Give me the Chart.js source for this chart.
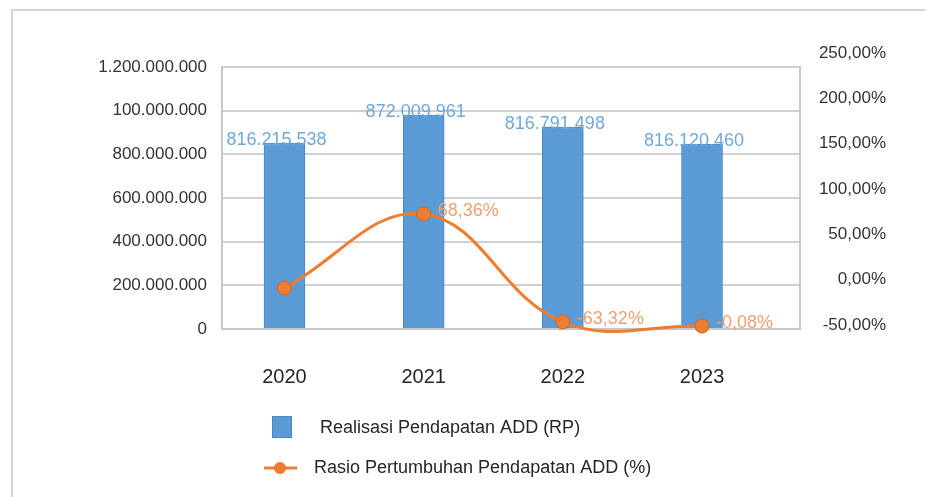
<!DOCTYPE html>
<html>
<head>
<meta charset="utf-8">
<script src="https://cdn.jsdelivr.net/npm/chart.js@4"></script>
<style>
  html, body { margin: 0; padding: 0; background: #ffffff; }
  #wrap { position: relative; width: 925px; height: 497px; }
</style>
</head>
<body>
<div id="wrap"><canvas id="c"></canvas></div>
<script>
// ---- data ----
const categories = ['2020', '2021', '2022', '2023'];
// bar heights as drawn against the left axis
const pendapatanValues = [852000000, 980000000, 925000000, 847000000];
// value labels printed above the bars
const pendapatanLabels = ['816.215.538', '872.009.961', '816.791.498', '816.120.460'];
// growth ratio points as drawn against the right axis (%)
const rasioValues = [-9.2, 72.5, -46.7, -51.1];
// value labels printed next to the points (none for 2020)
const rasioLabels = ['', '68,36%', '-63,32%', '-0,08%'];
// left axis tick labels as printed (0 .. 1.2 bn in 200 m steps)
const leftTickLabels = ['0', '200.000.000', '400.000.000', '600.000.000', '800.000.000', '100.000.000', '1.200.000.000'];
const rightTickValues = [-50, 0, 50, 100, 150, 200, 250];
const seriesNames = ['Realisasi Pendapatan ADD (RP)', 'Rasio Pertumbuhan Pendapatan ADD (%)'];

const BLUE = '#5b9bd5';
const BLUE_BORDER = '#4a86c0';
const ORANGE = '#ed7d31';
const ORANGE_DARK = '#d2691e';
const LABEL_BLUE = '#6fa8dc';
const FONT = "'Liberation Sans', Arial, sans-serif";

const framePlugin = {
  id: 'frame',
  beforeDraw(chart) {
    const ctx = chart.ctx;
    ctx.save();
    ctx.fillStyle = '#ffffff';
    ctx.fillRect(0, 0, chart.width, chart.height);
    ctx.strokeStyle = '#d4d4d4';
    ctx.lineWidth = 2;
    ctx.beginPath();
    ctx.moveTo(12, chart.height);
    ctx.lineTo(12, 10);
    ctx.lineTo(chart.width, 10);
    ctx.stroke();
    ctx.restore();
  }
};

const valueLabelPlugin = {
  id: 'valueLabels',
  afterDatasetsDraw(chart) {
    const ctx = chart.ctx;
    ctx.save();
    const barMeta = chart.getDatasetMeta(0);
    ctx.font = '18px ' + FONT;
    ctx.fillStyle = LABEL_BLUE;
    ctx.textAlign = 'center';
    ctx.textBaseline = 'alphabetic';
    barMeta.data.forEach((el, i) => {
      ctx.fillText(pendapatanLabels[i], el.x - 8, el.y + 2);
    });
    const lineMeta = chart.getDatasetMeta(1);
    ctx.fillStyle = '#f0a070';
    ctx.textAlign = 'left';
    ctx.textBaseline = 'middle';
    lineMeta.data.forEach((el, i) => {
      if (rasioLabels[i]) ctx.fillText(rasioLabels[i], el.x + 14, el.y - 3);
    });
    ctx.restore();
  }
};

const legendPlugin = {
  id: 'customLegend',
  afterDraw(chart) {
    const ctx = chart.ctx;
    const ds = chart.data.datasets;
    ctx.save();
    // bar entry
    ctx.fillStyle = ds[0].backgroundColor;
    ctx.strokeStyle = ds[0].borderColor;
    ctx.lineWidth = 1;
    ctx.fillRect(272, 416, 20, 22);
    ctx.strokeRect(272.5, 416.5, 19, 21);
    ctx.font = '18px ' + FONT;
    ctx.fillStyle = '#262626';
    ctx.textAlign = 'left';
    ctx.textBaseline = 'middle';
    ctx.fillText(ds[0].label, 320, 428);
    // line entry
    ctx.strokeStyle = ds[1].borderColor;
    ctx.lineWidth = 3;
    ctx.beginPath();
    ctx.moveTo(264, 468);
    ctx.lineTo(297, 468);
    ctx.stroke();
    ctx.fillStyle = ds[1].pointBackgroundColor;
    ctx.beginPath();
    ctx.arc(280, 468, 6, 0, Math.PI * 2);
    ctx.fill();
    ctx.fillStyle = '#262626';
    ctx.fillText(ds[1].label, 314, 468);
    ctx.restore();
  }
};

new Chart(document.getElementById('c'), {
  type: 'bar',
  data: {
    datasets: [
      {
        type: 'bar',
        label: seriesNames[0],
        data: categories.map((c, i) => ({ x: i, y: pendapatanValues[i] })),
        backgroundColor: BLUE,
        borderColor: BLUE_BORDER,
        borderWidth: 1,
        barThickness: 41,
        yAxisID: 'y',
        order: 2
      },
      {
        type: 'line',
        label: seriesNames[1],
        data: categories.map((c, i) => ({ x: i, y: rasioValues[i] })),
        borderColor: ORANGE,
        borderWidth: 3,
        tension: 0.4,
        capBezierPoints: false,
        clip: false,
        pointRadius: 7,
        pointBackgroundColor: ORANGE,
        pointBorderColor: ORANGE_DARK,
        pointBorderWidth: 1,
        yAxisID: 'y1',
        order: 1
      }
    ]
  },
  options: {
    responsive: true,
    maintainAspectRatio: false,
    devicePixelRatio: 1,
    animation: false,
    layout: { padding: { left: 0, right: 39, top: 67, bottom: 108 } },
    plugins: {
      legend: { display: false },
      tooltip: { enabled: false }
    },
    scales: {
      x: {
        type: 'linear',
        offset: false,
        min: -0.449,
        max: 3.704,
        afterBuildTicks(scale) { scale.ticks = categories.map((c, i) => ({ value: i })); },
        afterFit(scale) { scale.height = 60; },
        ticks: {
          callback: (v) => categories[v],
          font: { family: FONT, size: 20 },
          color: '#262626',
          padding: 36
        },
        grid: { display: false, drawTicks: false, offset: false },
        border: { display: true, color: '#c8c8c8', width: 2 }
      },
      y: {
        position: 'left',
        min: 0,
        max: 1200000000,
        afterBuildTicks(scale) { scale.ticks = leftTickLabels.map((t, i) => ({ value: i * 200000000 })); },
        afterFit(scale) { scale.width = 222; },
        ticks: {
          callback: (v) => leftTickLabels[Math.round(v / 200000000)],
          font: { family: FONT, size: 17 },
          color: '#333333',
          padding: 15
        },
        grid: { color: '#d0d0d0', lineWidth: 2, drawTicks: false },
        border: { display: true, color: '#c8c8c8', width: 2 }
      },
      y1: {
        position: 'right',
        min: -54.4,
        max: 234.6,
        afterBuildTicks(scale) { scale.ticks = rightTickValues.map(v => ({ value: v })); },
        afterFit(scale) { scale.width = 86; },
        ticks: {
          callback: (v) => v.toFixed(2).replace('.', ',') + '%',
          font: { family: FONT, size: 17 },
          color: '#333333',
          crossAlign: 'far',
          padding: 15
        },
        grid: { display: false, drawTicks: false },
        border: { display: true, color: '#c8c8c8', width: 2 }
      }
    }
  },
  plugins: [framePlugin, valueLabelPlugin, legendPlugin]
});
</script>
</body>
</html>
